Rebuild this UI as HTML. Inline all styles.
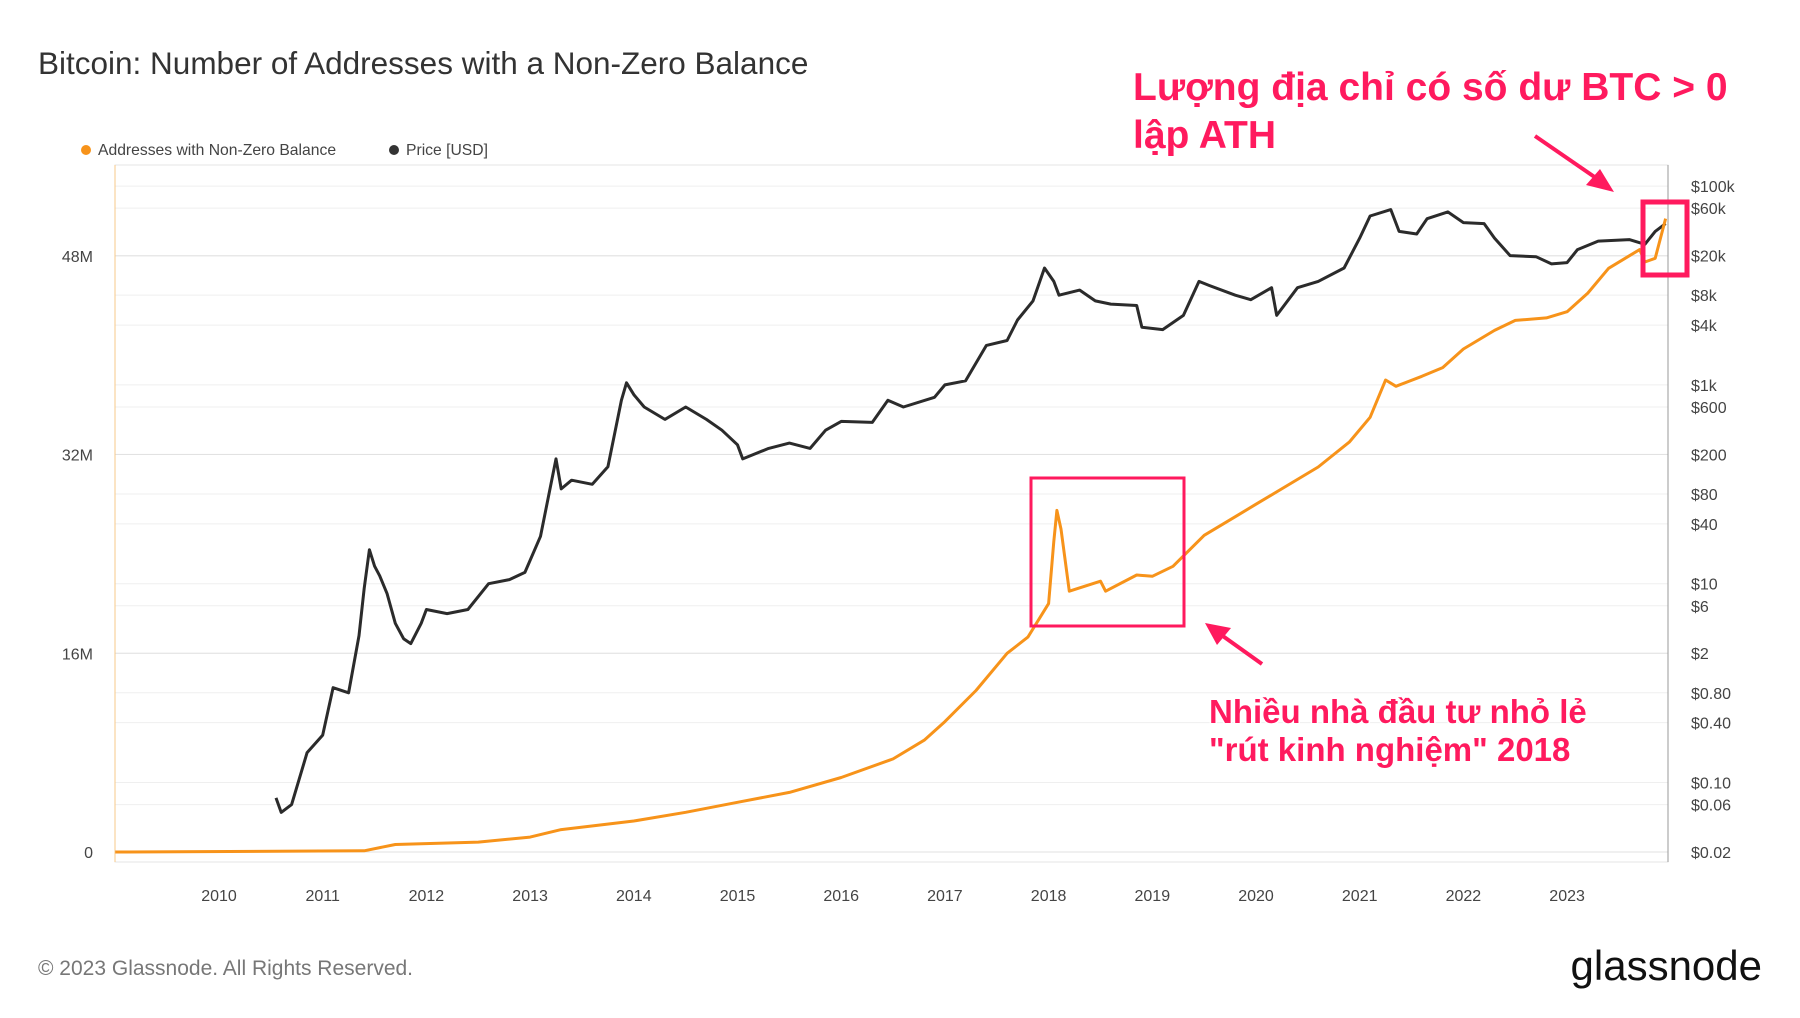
<!DOCTYPE html>
<html><head><meta charset="utf-8"><style>
body{margin:0;background:#fff;width:1800px;height:1013px;overflow:hidden;font-family:"Liberation Sans",sans-serif}
.ann{font-weight:bold;fill:#ff1a5e;stroke:#fff;stroke-width:3px;paint-order:stroke;font-family:"Liberation Sans","DejaVu Sans",sans-serif}
</style></head><body>
<svg width="1800" height="1013" xmlns="http://www.w3.org/2000/svg">
<text x="38" y="74" font-size="31.5" fill="#333">Bitcoin: Number of Addresses with a Non-Zero Balance</text>
<g font-size="15.7" fill="#444">
<circle cx="86" cy="150" r="5" fill="#f7931a"/>
<text x="98" y="155">Addresses with Non-Zero Balance</text>
<circle cx="394" cy="150" r="5" fill="#333"/>
<text x="406" y="155">Price [USD]</text>
</g>
<g id="grid"></g>
<rect x="115" y="165" width="1553" height="697" fill="none" stroke="#e6e6e6"/>
<line x1="115" y1="165" x2="115" y2="862" stroke="#f7c88a"/>
<line x1="1668" y1="165" x2="1668" y2="862" stroke="#999"/>
<g id="axes" font-size="16" fill="#444"></g>
<g id="series"></g>
<g>
<text x="1133" y="100" font-size="39" class="ann">Lượng địa chỉ có số dư BTC &gt; 0</text>
<text x="1133" y="148" font-size="39" class="ann">lập ATH</text>
<rect x="1643" y="202" width="44" height="73" fill="none" stroke="#ff1a5e" stroke-width="5"/>
<line x1="1535" y1="136" x2="1596" y2="178" stroke="#ff1a5e" stroke-width="4"/>
<polygon points="1614,192 1586,185 1600,169" fill="#ff1a5e"/>
<rect x="1031" y="478" width="153" height="148" fill="none" stroke="#ff1a5e" stroke-width="3"/>
<line x1="1262" y1="664" x2="1220" y2="634" stroke="#ff1a5e" stroke-width="4"/>
<polygon points="1205,623 1231,628 1217,645" fill="#ff1a5e"/>
<text x="1209" y="723" font-size="33" class="ann">Nhiều nhà đầu tư nhỏ lẻ</text>
<text x="1209" y="761" font-size="33" class="ann">"rút kinh nghiệm" 2018</text>
</g>
<text x="38" y="975" font-size="21" fill="#777">© 2023 Glassnode. All Rights Reserved.</text>
<text x="1762" y="980" font-size="42" text-anchor="end" fill="#111">glassnode</text>
</svg>
<script>
const priceDates=[2010.55,2010.6,2010.7,2010.85,2011.0,2011.1,2011.25,2011.35,2011.4,2011.45,2011.5,2011.55,2011.62,2011.7,2011.78,2011.85,2011.95,2012.0,2012.2,2012.4,2012.6,2012.8,2012.95,2013.1,2013.25,2013.3,2013.4,2013.6,2013.75,2013.88,2013.93,2014.0,2014.1,2014.3,2014.5,2014.7,2014.85,2015.0,2015.05,2015.3,2015.5,2015.7,2015.85,2016.0,2016.3,2016.45,2016.6,2016.9,2017.0,2017.2,2017.4,2017.6,2017.7,2017.85,2017.96,2018.05,2018.1,2018.3,2018.45,2018.6,2018.85,2018.9,2019.1,2019.3,2019.45,2019.55,2019.8,2019.95,2020.15,2020.2,2020.4,2020.6,2020.85,2021.0,2021.1,2021.3,2021.38,2021.55,2021.65,2021.85,2022.0,2022.2,2022.3,2022.45,2022.7,2022.85,2023.0,2023.1,2023.3,2023.6,2023.75,2023.85,2023.95];
const priceValues=[0.07,0.05,0.06,0.2,0.3,0.9,0.8,3,9,22,15,12,8,4,2.8,2.5,4,5.5,5,5.5,10,11,13,30,180,90,110,100,150,700,1050,800,600,450,600,450,350,250,180,230,260,230,350,430,420,700,600,750,1000,1100,2500,2800,4500,7000,15000,11000,8000,9000,7000,6500,6300,3800,3600,5000,11000,10000,8000,7200,9500,5000,9500,11000,15000,30000,50000,58000,35000,33000,47000,55000,43000,42000,30000,20000,19500,16500,17000,23000,28000,29000,26000,35000,42000];
const addrDates=[2009.0,2011.4,2011.7,2012.5,2013.0,2013.3,2014.0,2014.5,2015.0,2015.5,2016.0,2016.5,2016.8,2017.0,2017.3,2017.6,2017.8,2018.0,2018.05,2018.08,2018.12,2018.2,2018.5,2018.55,2018.85,2019.0,2019.2,2019.5,2019.8,2020.0,2020.3,2020.6,2020.9,2021.1,2021.25,2021.35,2021.6,2021.8,2022.0,2022.3,2022.5,2022.8,2023.0,2023.2,2023.4,2023.6,2023.7,2023.75,2023.85,2023.95];
const addrValues=[0,0.1,0.6,0.8,1.2,1.8,2.5,3.2,4,4.8,6,7.5,9,10.5,13,16,17.3,20,25,27.5,26,21,21.8,21,22.3,22.2,23,25.5,27,28,29.5,31,33,35,38,37.5,38.3,39,40.5,42,42.8,43,43.5,45,47,48,48.5,47.5,47.8,51];
const yearTicks=[2010,2011,2012,2013,2014,2015,2016,2017,2018,2019,2020,2021,2022,2023];
const leftTicks=[0,16,32,48];
const leftTickLabels=["0","16M","32M","48M"];
const priceTicks=[0.02,0.06,0.1,0.4,0.8,2,6,10,40,80,200,600,1000,4000,8000,20000,60000,100000];
const priceTickLabels=["$0.02","$0.06","$0.10","$0.40","$0.80","$2","$6","$10","$40","$80","$200","$600","$1k","$4k","$8k","$20k","$60k","$100k"];
const NS="http://www.w3.org/2000/svg";
const X=y=>219+(y-2010)*103.7;
const YL=m=>852-m*12.42;
const YP=p=>852-(Math.log10(p)+1.699)*99.4;
const grid=document.getElementById('grid'),axes=document.getElementById('axes'),series=document.getElementById('series');
function mk(tag,parent,attrs){const e=document.createElementNS(NS,tag);for(const k in attrs)e.setAttribute(k,attrs[k]);parent.appendChild(e);return e;}
priceTicks.forEach((p,i)=>{
  const g=mk('line',grid,{x1:115,x2:1668,y1:YP(p),y2:YP(p),stroke:'#efefef'});
  
  
  const t=mk('text',axes,{x:1691,y:YP(p)+6});
  t.textContent=priceTickLabels[i];
  
  
});
leftTicks.forEach((m,i)=>{
  const g=mk('line',grid,{x1:115,x2:1668,y1:YL(m),y2:YL(m),stroke:'#e2e2e2'});
  
  
  const t=mk('text',axes,{x:93,y:YL(m)+6,'text-anchor':'end'});
  t.textContent=leftTickLabels[i];
  
  
});
yearTicks.forEach(y=>{
  const t=mk('text',axes,{x:X(y),y:901,'text-anchor':'middle'});
  t.textContent=y;
  
  
});
const pp=priceDates.map((d,i)=>X(d).toFixed(1)+','+YP(priceValues[i]).toFixed(1)).join(' ');
const pl=mk('polyline',series,{points:pp,fill:'none',stroke:'#2b2b2b','stroke-width':3,'stroke-linejoin':'round'});


const ap=addrDates.map((d,i)=>X(d).toFixed(1)+','+YL(addrValues[i]).toFixed(1)).join(' ');
const al=mk('polyline',series,{points:ap,fill:'none',stroke:'#f7931a','stroke-width':3,'stroke-linejoin':'round'});


</script>
</body></html>
